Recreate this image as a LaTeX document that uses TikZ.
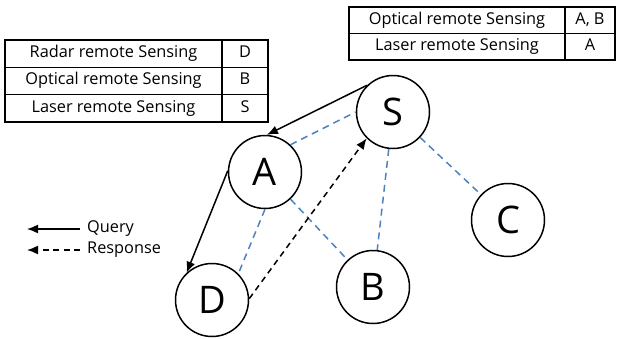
\documentclass[tikz,border=0pt]{standalone}
\usepackage{fontspec}
\setmainfont{Open Sans}
\usetikzlibrary{arrows.meta,positioning}
\definecolor{linkblue}{RGB}{79,129,189}

\begin{document}
\begin{tikzpicture}[x=1pt, y=-1pt,
    cell/.style={draw, line width=1.5pt, inner sep=0pt, outer sep=0pt, minimum height=27.3pt,
        text height=11.5pt, text depth=3.5pt, font=\fontsize{16.3}{18}\selectfont},
    namecell/.style={cell, minimum width=217pt},
    valcell/.style={cell, minimum width=46pt},
    sensor/.style={circle, draw, line width=1.5pt, minimum size=73pt, inner sep=0pt, fill=white,
        font=\fontsize{38}{40}\selectfont},
    query/.style={-{Latex[length=11pt,width=9pt]}, line width=1.5pt},
    response/.style={query, dash pattern=on 6pt off 4.5pt},
    bluelink/.style={linkblue, line width=1.5pt, dash pattern=on 7pt off 5pt},
]
    \useasboundingbox (0,0) rectangle (618,338);
    % left table
    \node[namecell, anchor=north west] (ln1) at (5,40) {Radar remote Sensing};
    \node[valcell, right=0pt of ln1] (lv1) {D};
    \node[namecell, below=0pt of ln1] (ln2) {Optical remote Sensing};
    \node[valcell, right=0pt of ln2] (lv2) {B};
    \node[namecell, below=0pt of ln2] (ln3) {Laser remote Sensing};
    \node[valcell, right=0pt of ln3] (lv3) {S};
    % right table
    \node[namecell, minimum width=216pt, minimum height=26.5pt, anchor=north west] (rn1) at (349,7) {Optical remote Sensing};
    \node[valcell, minimum width=50pt, minimum height=26.5pt, right=0pt of rn1] (rv1) {A, B};
    \node[namecell, minimum width=216pt, minimum height=26.5pt, below=0pt of rn1] (rn2) {Laser remote Sensing};
    \node[valcell, minimum width=50pt, minimum height=26.5pt, right=0pt of rn2] (rv2) {A};
    % sensors
    \node[sensor] (S) at (393,112) {S};
    \node[sensor] (A) at (265,172) {A};
    \node[sensor] (D) at (212,300) {D};
    \node[sensor] (B) at (373,287) {B};
    \node[sensor] (C) at (508,220) {C};
    % links
    \draw[bluelink] (A.47) -- (S.180);
    \draw[bluelink] (A) -- (B);
    \draw[bluelink] (A.270) -- (D.45);
    \draw[bluelink] (S) -- (B);
    \draw[bluelink] (S) -- (C);
    % query / response
    \draw[query] (S.134) -- (A.87);
    \draw[query] (A.178) -- (D.133);
    \draw[response] (D.2) -- (S.225);
    % legend
    \node[anchor=west, inner sep=0pt, font=\fontsize{16.3}{18}\selectfont] (qry) at (87,229) {Query};
    \node[anchor=west, inner sep=0pt, font=\fontsize{16.3}{18}\selectfont] (rsp) at (87,250) {Response};
    \coordinate (qend) at (27,229);
    \coordinate (rend) at (27,250);
    \draw[query] ([xshift=-7pt]qry.west) -- (qend);
    \draw[response] ([xshift=-7pt]rsp.west) -- (rend);
\end{tikzpicture}
\end{document}
